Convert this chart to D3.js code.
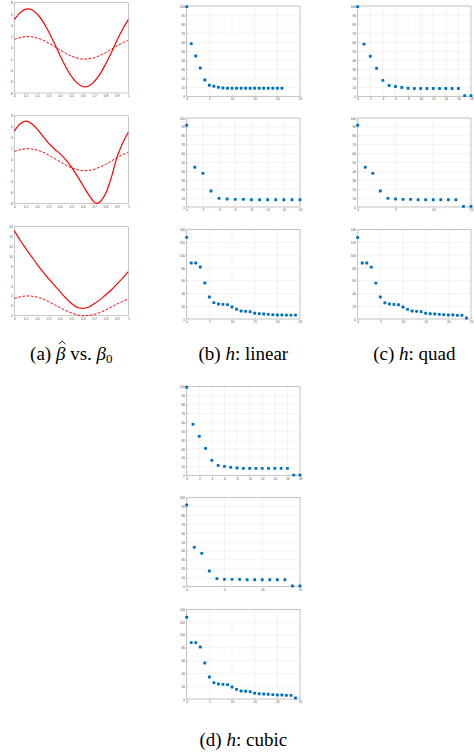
<!DOCTYPE html>
<html><head><meta charset="utf-8">
<script src="https://cdn.jsdelivr.net/npm/d3@7"></script>
<style>body{margin:0;background:#fff}svg{display:block}</style>
</head><body>
<script>
// ---------- data ----------
const aX = [0,0.05,0.1,0.15,0.2,0.25,0.3,0.35,0.4,0.45,0.5,0.55,0.6,0.65,0.7,0.75,0.8,0.85,0.9,0.95,1];
const aMidX = [0,0.05,0.1,0.15,0.2,0.25,0.3,0.35,0.4,0.45,0.5,0.55,0.6,0.65,0.7,0.72,0.75,0.8,0.85,0.9,0.95,1];
const aTopSolid = [5.0,6.2,6.85,6.8,6.0,4.7,2.9,0.9,-1.3,-3.3,-5.0,-6.2,-6.85,-6.8,-6.0,-4.7,-2.9,-0.9,1.3,3.3,5.0];
const aDashed   = [1.5,1.8,2.0,1.95,1.75,1.4,0.85,0.25,-0.35,-0.95,-1.45,-1.8,-2.0,-1.95,-1.75,-1.35,-0.85,-0.25,0.35,0.9,1.35];
const aMidSolid = [5.2,6.5,7.0,6.6,5.6,4.3,3.0,2.0,1.1,0.0,-1.3,-2.9,-4.6,-6.3,-7.7,-7.95,-7.7,-6.2,-3.3,0.4,3.0,5.0];
const aBotSolid = [15.2,13.3,11.6,10.0,8.4,6.9,5.5,4.2,2.9,1.6,0.5,-0.3,-0.5,-0.3,0.4,1.2,2.2,3.2,4.4,5.6,6.9];
const aXTicks = [0,0.1,0.2,0.3,0.4,0.5,0.6,0.7,0.8,0.9,1];
const aYTicks = [-8,-6,-4,-2,0,2,4,6,8];
const aYTicksBot = [-2,0,2,4,6,8,10,12,14,16];

const bTop = [99.3,58.3,44.6,31.4,18.1,12.2,11.1,10.0,9.2,8.9,8.9,8.9,8.9,8.9,8.9,8.9,8.9,8.9,8.9,8.9,8.9,8.9];
const bMid = [91.8,44.6,37.8,18.0,9.7,9.0,8.6,8.6,8.2,8.2,8.2,8.2,8.2,8.2,8.2];
const bBot = [128,87.8,87.8,81.5,56.4,34.5,25.6,23.5,23,22.5,18.8,15.2,12.5,12,11.5,8.9,8.4,7.8,7.3,6.8,6.3,6.3,6.0,6.0,6.0];
const cTop = [99.3,57.8,44.4,30.9,17.6,11.9,10.8,9.7,8.9,8.6,8.6,8.6,8.6,8.6,8.6,8.6,8.6,0.7,0.7];
const cMid = [91.8,44.6,37.8,18.0,9.7,9.0,8.6,8.6,8.2,8.2,8.2,8.2,8.2,8.2,0.7,0.7];
const cBot = [127.8,87.9,87.9,81.3,56.3,34.4,25.5,23.4,22.9,22.4,18.7,15.1,12.5,12,11.5,8.9,8.3,7.8,7.3,6.8,6.2,6.2,5.7,5.7,1.5];
const dTop = [99.3,57.7,44.2,30.7,17.2,11.6,10.5,9.4,8.6,8.2,8.2,8.2,8.2,8.2,8.2,8.2,8.2,0.7,0.7];
const dMid = [91.4,44.0,37.3,17.5,9.0,8.2,8.2,8.2,7.8,7.8,7.8,7.8,7.8,7.8,0.7,0.7];
const dBot = [127.5,88,88,81.2,56.2,34.4,25.5,23.4,22.9,22.4,18.7,15.1,12.5,12,11.5,8.9,8.3,7.8,7.3,6.8,6.2,6.2,5.7,5.7,1.5];

const xTicks25 = [0,5,10,15,20,25];
const xTicks14 = [0,2,4,6,8,10,12,14];
const xTicks18 = [0,2,4,6,8,10,12,14,16,18];
const xTicks15 = [0,5,10,15];
const yTicks100 = [0,10,20,30,40,50,60,70,80,90,100];
const yTicks140 = [0,20,40,60,80,100,120,140];

const captions = ["(b) ", "(c) ", "(d) "];
const captionWords = ["linear", "quad", "cubic"];

// ---------- drawing ----------
const W = 474, H = 755;
const svg = d3.select("body").append("svg").attr("width", W).attr("height", H)
  .attr("font-family", "'Liberation Sans', Arial, sans-serif");

const BOX = "#a6a6a6", LBL = "#4d4d4d", GRID = "#e6e6e6";
const FS = 3.2;

function frame(g, x, y, xt, yt, grid) {
  const [x0, x1] = x.range(), [y1, y0] = y.range();
  if (grid) {
    g.append("g").selectAll("line").data(xt).join("line")
      .attr("x1", d => x(d)).attr("x2", d => x(d)).attr("y1", y0).attr("y2", y1)
      .attr("stroke", GRID).attr("stroke-width", 0.5);
    g.append("g").selectAll("line").data(yt).join("line")
      .attr("y1", d => y(d)).attr("y2", d => y(d)).attr("x1", x0).attr("x2", x1)
      .attr("stroke", GRID).attr("stroke-width", 0.5);
  }
  const fmt = d => String(d);
  const ax = g.append("g").attr("transform", `translate(0,${y1})`)
    .call(d3.axisBottom(x).tickValues(xt).tickFormat(fmt).tickSizeInner(-1).tickSizeOuter(0).tickPadding(1.8));
  const ay = g.append("g").attr("transform", `translate(${x0},0)`)
    .call(d3.axisLeft(y).tickValues(yt).tickFormat(fmt).tickSizeInner(-1).tickSizeOuter(0).tickPadding(1.6));
  [ax, ay].forEach(a => {
    a.select(".domain").remove();
    a.selectAll("line").attr("stroke", BOX).attr("stroke-width", 0.4);
    a.selectAll("text").attr("fill", LBL).attr("font-size", FS).attr("font-family", null);
    a.attr("font-size", null).attr("font-family", null);
  });
  g.append("rect").attr("x", x0).attr("y", y0).attr("width", x1 - x0).attr("height", y1 - y0)
    .attr("fill", "none").attr("stroke", BOX).attr("stroke-width", 0.6);
}

function curvePanel(bx, by, ydom, yt, series) {
  const g = svg.append("g");
  const x = d3.scaleLinear().domain([0, 1]).range(bx);
  const y = d3.scaleLinear().domain(ydom).range([by[1], by[0]]);
  frame(g, x, y, aXTicks, yt, false);
  const line = d3.line().x(d => x(d[0])).y(d => y(d[1])).curve(d3.curveCatmullRom.alpha(0.5));
  series.forEach(s => {
    g.append("path").attr("d", line(d3.zip(s.x, s.y)))
      .attr("fill", "none").attr("stroke", "#ff0000").attr("stroke-width", s.dash ? 1.0 : 1.2)
      .attr("stroke-dasharray", s.dash ? "2.6,1.6" : null);
  });
}

function scatterPanel(bx, by, xdom, xt, ydom, yt, vals) {
  const g = svg.append("g");
  const x = d3.scaleLinear().domain(xdom).range(bx);
  const y = d3.scaleLinear().domain(ydom).range([by[1], by[0]]);
  frame(g, x, y, xt, yt, true);
  g.append("g").selectAll("rect").data(vals).join("rect")
    .attr("x", (d, i) => x(i) - 1.45).attr("y", d => y(d) - 1.45)
    .attr("width", 2.9).attr("height", 2.9).attr("rx", 0.7)
    .attr("fill", "#0072BD");
}

// column (a)
const AX = [14.3, 128.3];
curvePanel(AX, [2.7, 93], [-8, 8], aYTicks, [
  {x: aX, y: aTopSolid}, {x: aX, y: aDashed, dash: true}]);
curvePanel(AX, [115.7, 203.7], [-8, 8], aYTicks, [
  {x: aMidX, y: aMidSolid}, {x: aX, y: aDashed, dash: true}]);
curvePanel(AX, [226.7, 315.7], [-2, 16], aYTicksBot, [
  {x: aX, y: aBotSolid}, {x: aX, y: aDashed, dash: true}]);

const BXr = [186.7, 300], CXr = [357.7, 471];
const R1 = [6, 96.3], R2 = [118, 207], R3 = [229.7, 319];
scatterPanel(BXr, R1, [0, 25], xTicks25, [0, 100], yTicks100, bTop);
scatterPanel(BXr, R2, [0, 14], xTicks14, [0, 100], yTicks100, bMid);
scatterPanel(BXr, R3, [0, 25], xTicks25, [0, 140], yTicks140, bBot);
scatterPanel(CXr, R1, [0, 18], xTicks18, [0, 100], yTicks100, cTop);
scatterPanel(CXr, R2, [0, 15], xTicks15, [0, 100], yTicks100, cMid);
scatterPanel(CXr, R3, [0, 25], xTicks25, [0, 140], yTicks140, cBot);
scatterPanel(BXr, [386.7, 475.7], [0, 18], xTicks18, [0, 100], yTicks100, dTop);
scatterPanel(BXr, [497.3, 586.7], [0, 15], xTicks15, [0, 100], yTicks100, dMid);
scatterPanel(BXr, [609.3, 699], [0, 25], xTicks25, [0, 140], yTicks140, dBot);

// captions
const CF = "'Liberation Serif', 'DejaVu Serif', serif";
const CS = 19;
const capY = 359.5;
const capA = svg.append("text").attr("x", (AX[0] + AX[1]) / 2).attr("y", capY)
  .attr("text-anchor", "middle").attr("font-family", CF).attr("font-size", CS).attr("fill", "#000");
capA.append("tspan").text("(a) ");
const hatB = capA.append("tspan").attr("font-style", "italic").text("\u03B2");
capA.append("tspan").text(" vs. ");
capA.append("tspan").attr("font-style", "italic").text("\u03B2");
capA.append("tspan").attr("font-size", 13).attr("dy", 3.5).text("0");
{
  // circumflex accent of the estimate symbol, drawn as a small stroke
  const bb = hatB.node().getBBox();
  const cx = bb.x + bb.width / 2 + 1.8;
  svg.append("path")
    .attr("d", `M${cx - 3.2},${capY - 15.2}L${cx},${capY - 18.6}L${cx + 3.2},${capY - 15.2}`)
    .attr("fill", "none").attr("stroke", "#000").attr("stroke-width", 0.9);
}

const capPos = [[(BXr[0] + BXr[1]) / 2, capY], [(CXr[0] + CXr[1]) / 2, capY], [(BXr[0] + BXr[1]) / 2, 745.5]];
capPos.forEach((p, i) => {
  const t = svg.append("text").attr("x", p[0]).attr("y", p[1])
    .attr("text-anchor", "middle").attr("font-family", CF).attr("font-size", CS).attr("fill", "#000");
  t.append("tspan").text(captions[i]);
  t.append("tspan").attr("font-style", "italic").text("h");
  t.append("tspan").text(": " + captionWords[i]);
});
</script>
</body></html>
